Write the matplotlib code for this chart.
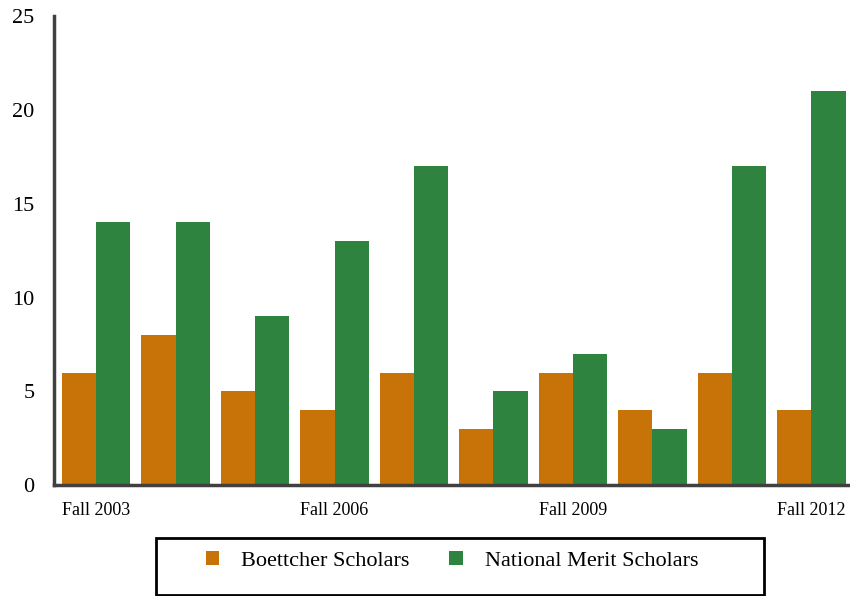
import matplotlib.pyplot as plt
from matplotlib.patches import Rectangle
import numpy as np

years = ["Fall 2003", "Fall 2004", "Fall 2005", "Fall 2006", "Fall 2007",
         "Fall 2008", "Fall 2009", "Fall 2010", "Fall 2011", "Fall 2012"]
boettcher = [6, 8, 5, 4, 6, 3, 6, 4, 6, 4]
national_merit = [14, 14, 9, 13, 17, 5, 7, 3, 17, 21]

plt.rcParams["font.family"] = ["Liberation Serif", "DejaVu Serif"]

fig = plt.figure(figsize=(8.5, 5.96), dpi=100)
ax = fig.add_axes([0.0635, 0.186, 0.935, 0.787])

x = np.arange(len(years))
w = 0.43
ax.bar(x - w / 2, boettcher, w, color="#C87308", label="Boettcher Scholars")
ax.bar(x + w / 2, national_merit, w, color="#2E843E", label="National Merit Scholars")

ax.set_xlim(-0.53, 9.47)
ax.set_ylim(0, 25)
ax.set_yticks([0, 5, 10, 15, 20, 25])
ax.set_xticks(x[::3])
ax.set_xticklabels(years[::3], fontsize=13)
ax.tick_params(axis="y", length=0, labelsize=16, pad=14)
ax.tick_params(axis="x", length=0, pad=12)

for s in ["top", "right"]:
    ax.spines[s].set_visible(False)
for s in ["left", "bottom"]:
    ax.spines[s].set_color("#404040")
    ax.spines[s].set_linewidth(2.5)

# legend frame drawn separately so its size matches the box in the source
fig.patches.append(Rectangle((156 / 850, 1 - 595 / 596), 608 / 850, 57 / 596,
                             transform=fig.transFigure, fill=False,
                             edgecolor="black", linewidth=2))
fig.legend(loc="center", bbox_to_anchor=(452 / 850, 1 - 561 / 596),
           ncol=2, fontsize=16, frameon=False,
           handlelength=0.6, handleheight=0.6, handletextpad=1.0, columnspacing=1.8)

fig.savefig("out.png", dpi=100)
